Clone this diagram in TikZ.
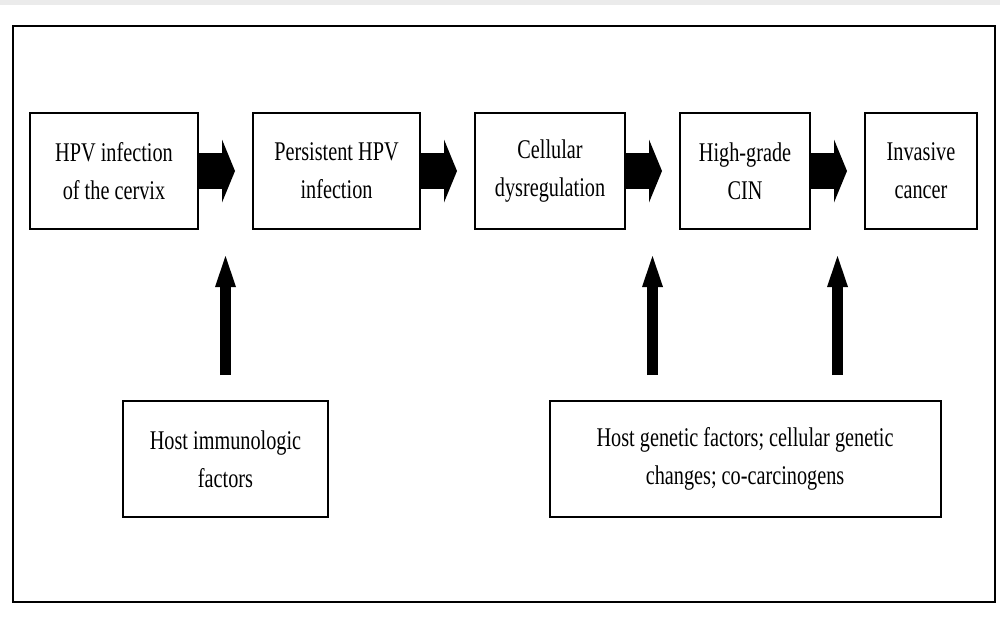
\documentclass[tikz,border=0pt]{standalone}
\usepackage{fontspec}
\setmainfont[FakeStretch=0.75]{Liberation Serif}
\usetikzlibrary{positioning,arrows.meta}
\usetikzlibrary{calc}

\begin{document}
\begin{tikzpicture}
  \newdimen\dist
  \dist=55pt

  \tikzstyle{stage} = [
    % The shape:
    rectangle, minimum height=116pt, inner sep=0pt, outer sep=0pt,
    % The border:
    line width=2pt,
    draw=black,
    % Font:
    font=\fontsize{27}{38}\selectfont, align=center
  ];
  \tikzstyle{factor} = [stage];
  \tikzstyle{flow} = [
    draw = black,
    line width=36pt,
    -{Triangle[length=13pt,width=63pt,line width=0pt]},
    shorten >=18pt
  ];
  \tikzstyle{upflow} = [
    draw = black,
    line width=11pt,
    -{Triangle[length=31pt,width=21pt,line width=0pt]},
    shorten <=26pt,
    shorten >=27pt
  ];

  \useasboundingbox (0,0) rectangle (1000pt,-616pt);
  \fill [black!8] (0,0) rectangle (1000pt,-5pt);
  \draw [line width=2pt] (13pt,-26pt) rectangle (995pt,-602pt);

  \node [stage, minimum width=168pt] (infection) at (114pt,-171pt) {HPV infection\\of the cervix};
  \node [stage, minimum width=167pt, right=\dist of infection] (persistent) {Persistent HPV\\infection};
  \node [stage, minimum width=150pt, right=\dist of persistent] (dysregulation) {Cellular\\dysregulation};
  \node [stage, minimum width=130pt, right=\dist of dysregulation] (CIN) {High-grade\\CIN};
  \node [stage, minimum width=112pt, right=\dist of CIN] (cancer) {Invasive\\cancer};

  \coordinate (gapA) at ($(infection.east)!0.5!(persistent.west)$);
  \coordinate (gapC) at ($(dysregulation.east)!0.5!(CIN.west)$);
  \coordinate (gapD) at ($(CIN.east)!0.5!(cancer.west)$);
  \coordinate (gapCD) at ($(gapC)!0.5!(gapD)$);

  \node [factor, minimum width=205pt, below=230pt of gapA] (immunologic) {Host immunologic\\factors};
  \node [factor, minimum width=391pt, below=230pt of gapCD] (genetic) {Host genetic factors; cellular genetic\\changes; co-carcinogens};

  \path [flow] (infection) to (persistent);
  \path [flow] (persistent) to (dysregulation);
  \path [flow] (dysregulation) to (CIN);
  \path [flow] (CIN) to (cancer);

  \path [upflow] (immunologic.north -| gapA) to (gapA |- infection.south);
  \path [upflow] (genetic.north -| gapC) to (gapC |- CIN.south);
  \path [upflow] (genetic.north -| gapD) to (gapD |- CIN.south);
\end{tikzpicture}
\end{document}
